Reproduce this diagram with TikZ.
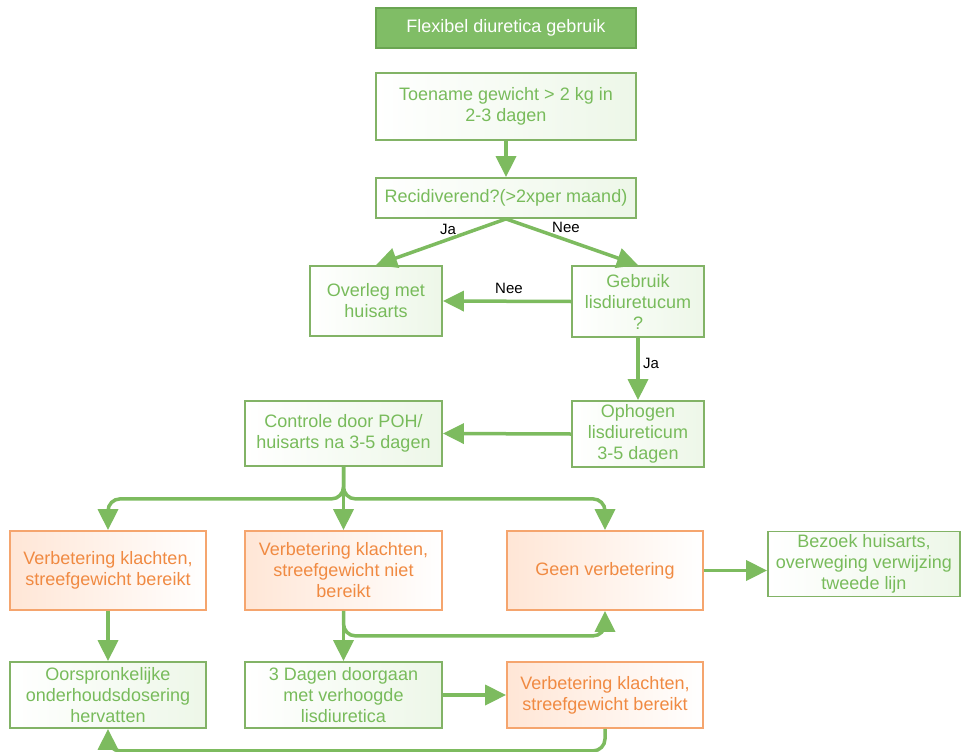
\documentclass[tikz,border=0pt]{standalone}
\usepackage{fontspec}
\setmainfont{Liberation Sans}
\usetikzlibrary{arrows.meta,shadings}
\definecolor{gstroke}{HTML}{82B366}
\definecolor{gtext}{HTML}{78BB5B}
\definecolor{gfill}{HTML}{EDF7E8}
\definecolor{garrow}{HTML}{7DBB5F}
\definecolor{ostroke}{HTML}{F5A56E}
\definecolor{otext}{HTML}{F08A42}
\definecolor{ofill}{HTML}{FFE6D6}
\definecolor{tfill}{HTML}{80BD66}
\definecolor{tstroke}{HTML}{6AA552}
\begin{document}
\begin{tikzpicture}[x=1pt,y=-1pt,
  box/.style={draw, line width=1.8pt, align=center, inner sep=1pt,
    font=\fontsize{18}{21}\selectfont},
  gbox/.style={box, draw=gstroke, text=gtext, left color=white, right color=gfill},
  obox/.style={box, draw=ostroke, text=otext, left color=ofill, right color=white},
  tbox/.style={box, draw=tstroke, fill=tfill, text=white},
  arr/.style={draw=garrow, line width=3.5pt, rounded corners=12pt,
    -{Triangle[length=21pt,width=20pt]}},
  lbl/.style={fill=white, inner sep=1pt, text=black, font=\fontsize{15}{17}\selectfont}
]
\useasboundingbox (0,0) rectangle (961,752);

\node[tbox, minimum width=260, minimum height=40] (title) at (506,28) {Flexibel diuretica gebruik};
\node[gbox, minimum width=260, minimum height=67] (toe) at (506,106.5) {Toename gewicht > 2 kg in\\2-3 dagen};
\node[gbox, minimum width=260, minimum height=40] (rec) at (506,198) {Recidiverend?(>2xper maand)};
\node[gbox, minimum width=132, minimum height=70] (ovl) at (376,301) {Overleg met\\huisarts};
\node[gbox, minimum width=132, minimum height=71] (geb) at (638,301.5) {Gebruik\\lisdiuretucum\\?};
\node[gbox, minimum width=132, minimum height=66] (oph) at (638,434) {Ophogen\\lisdiureticum\\3-5 dagen};
\node[gbox, minimum width=197, minimum height=65] (ctl) at (343.5,433.5) {Controle door POH/\\huisarts na 3-5 dagen};
\node[obox, minimum width=196, minimum height=79] (v1) at (108,570.5) {Verbetering klachten,\\streefgewicht bereikt};
\node[obox, minimum width=197, minimum height=79] (v2) at (343.5,570.5) {Verbetering klachten,\\streefgewicht niet\\bereikt};
\node[obox, minimum width=196, minimum height=79] (geen) at (605,570.5) {Geen verbetering};
\node[gbox, minimum width=192, minimum height=65] (bez) at (864,564) {Bezoek huisarts,\\overweging verwijzing\\tweede lijn};
\node[gbox, minimum width=196, minimum height=66] (oor) at (108,695) {Oorspronkelijke\\onderhoudsdosering\\hervatten};
\node[gbox, minimum width=197, minimum height=66] (dag) at (343.5,695) {3 Dagen doorgaan\\met verhoogde\\lisdiuretica};
\node[obox, minimum width=196, minimum height=66] (v3) at (605,695) {Verbetering klachten,\\streefgewicht bereikt};

\draw[arr] (toe.south) -- (rec.north);
\draw[arr] (rec.south) -- (ovl.north);
\draw[arr] (rec.south) -- (geb.north);
\draw[arr] (geb.west) -- (ovl.east);
\draw[arr] (geb.south) -- (oph.north);
\draw[arr] (oph.west) -- (ctl.east);
\draw[arr] (ctl.south) -- ++(0,32) -| (v1.north);
\draw[arr] (ctl.south) -- (v2.north);
\draw[arr] (ctl.south) -- ++(0,32) -| (geen.north);
\draw[arr] (geen.east) -- (bez.west |- geen.east);
\draw[arr] (v1.south) -- (oor.north);
\draw[arr] (v2.south) -- (dag.north);
\draw[arr] (v2.south) -- ++(0,25) -| (geen.south);
\draw[arr] (dag.east) -- (v3.west);
\draw[arr] (v3.south) -- ++(0,22) -| (oor.south);

\node[lbl] (ja1) at (448,229) {Ja};
\node[lbl] (nee1) at (566,227) {Nee};
\node[lbl] (nee2) at (509,288) {Nee};
\node[lbl] (ja2) at (651,363) {Ja};
\end{tikzpicture}
\end{document}
